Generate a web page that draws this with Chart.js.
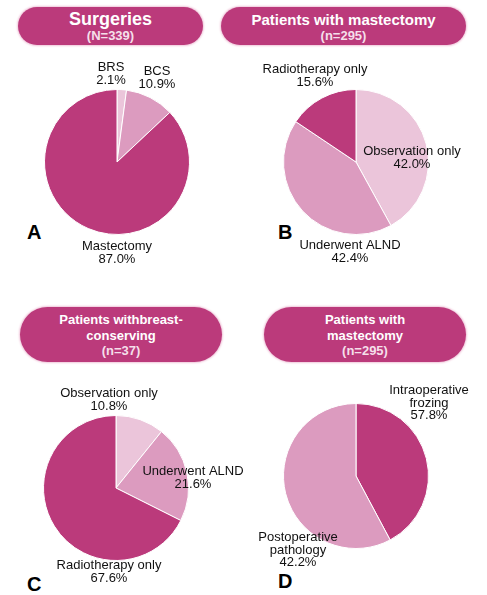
<!DOCTYPE html>
<html>
<head>
<meta charset="utf-8">
<script src="https://cdn.jsdelivr.net/npm/chart.js@4"></script>
<style>
  body { margin: 0; background: #fff; font-family: "Liberation Sans", Arial, sans-serif; }
  #page { position: relative; width: 487px; height: 595px; overflow: hidden; }
  canvas { position: absolute; left: 0; top: 0; }
  .pill {
    position: absolute; background: #bb3a7b; color: #fff; border-radius: 22px;
    box-shadow: 0 0 2px 1px #f0c6da; text-align: center; font-weight: bold;
    display: flex; flex-direction: column; justify-content: center;
  }
  .pill .sub { color: #f5dfea; font-size: 13px; line-height: 13px; }
  .letter { position: absolute; font-weight: bold; font-size: 20px; color: #000; line-height: 20px; }
</style>
</head>
<body>
<div id="page">
  <div class="pill" style="left:18px;top:7px;width:185px;height:38px;">
    <div style="font-size:18px;line-height:19px;">Surgeries</div>
    <div class="sub">(N=339)</div>
  </div>
  <div class="pill" style="left:221px;top:7px;width:245px;height:38px;">
    <div style="font-size:15px;line-height:18px;">Patients with mastectomy</div>
    <div class="sub">(n=295)</div>
  </div>
  <div class="pill" style="left:20px;top:307px;width:202px;height:55px;border-radius:28px;">
    <div style="font-size:13px;line-height:16px;">Patients withbreast-<br>conserving</div>
    <div class="sub">(n=37)</div>
  </div>
  <div class="pill" style="left:264px;top:307px;width:202px;height:55px;border-radius:28px;">
    <div style="font-size:13px;line-height:16px;">Patients with<br>mastectomy</div>
    <div class="sub">(n=295)</div>
  </div>
  <div class="letter" style="left:27px;top:222px;">A</div>
  <div class="letter" style="left:278px;top:222px;">B</div>
  <div class="letter" style="left:27px;top:574px;">C</div>
  <div class="letter" style="left:278px;top:571px;">D</div>
  <canvas id="pieA" width="487" height="595"></canvas>
  <canvas id="pieB" width="487" height="595"></canvas>
  <canvas id="pieC" width="487" height="595"></canvas>
  <canvas id="pieD" width="487" height="595"></canvas>
</div>
<script>
const DARK = "#bb3a7b";
const MID = "#dc9bbf";
const LIGHT = "#ebc5da";

// A: surgeries
const surgeryLabels = ["BRS", "BCS", "Mastectomy"];
const surgeryValues = [2.1, 10.9, 87.0];

// B: patients with mastectomy, axillary treatment
const mastLabels = ["Observation only", "Underwent ALND", "Radiotherapy only"];
const mastValues = [42.0, 42.4, 15.6];

// C: breast-conserving patients
const bcsLabels = ["Observation only", "Underwent ALND", "Radiotherapy only"];
const bcsValues = [10.8, 21.6, 67.6];

// D: pathology method (slice sizes as drawn, percent text as printed)
const pathLabels = ["Intraoperative\nfrozing", "Postoperative\npathology"];
const pathValues = [42.2, 57.8];
const pathPercents = ["57.8%", "42.2%"];

const W = 487, H = 595, R = 73;

function pct(v) { return v.toFixed(1) + "%"; }

const pies = [
  { id: "pieA", labels: surgeryLabels, values: surgeryValues, text: surgeryValues.map(pct),
    colors: [LIGHT, MID, DARK], cx: 117, cy: 162,
    offsets: [[-6, -88], [40, -84], [0, 91]] },
  { id: "pieB", labels: mastLabels, values: mastValues, text: mastValues.map(pct),
    colors: [LIGHT, MID, DARK], cx: 356, cy: 162,
    offsets: [[56, -4], [-6, 90], [-41, -86]] },
  { id: "pieC", labels: bcsLabels, values: bcsValues, text: bcsValues.map(pct),
    colors: [LIGHT, MID, DARK], cx: 116, cy: 488,
    offsets: [[-7, -88], [77, -10], [-7, 84]] },
  { id: "pieD", labels: pathLabels, values: pathValues, text: pathPercents,
    colors: [DARK, MID], cx: 356, cy: 476,
    offsets: [[73, -73], [-58, 74]] },
];

const sliceLabels = {
  id: "sliceLabels",
  afterDatasetsDraw(chart, args, opts) {
    const ctx = chart.ctx;
    const arc = chart.getDatasetMeta(0).data[0];
    ctx.save();
    ctx.font = '13px "Liberation Sans", Arial, sans-serif';
    ctx.fillStyle = "#111";
    ctx.textAlign = "center";
    ctx.textBaseline = "middle";
    chart.data.labels.forEach((lab, i) => {
      const lines = lab.split("\n").concat([opts.text[i]]);
      const [dx, dy] = opts.offsets[i];
      const lh = 12.5;
      const y0 = arc.y + dy - (lines.length - 1) * lh / 2;
      lines.forEach((ln, j) => ctx.fillText(ln, arc.x + dx, y0 + j * lh));
    });
    ctx.restore();
  },
};

pies.forEach((p) => {
  new Chart(document.getElementById(p.id), {
    type: "pie",
    data: {
      labels: p.labels,
      datasets: [{
        data: p.values,
        backgroundColor: p.colors,
        borderColor: "#ffffff",
        borderWidth: 1,
      }],
    },
    options: {
      responsive: false,
      animation: false,
      layout: {
        padding: { left: p.cx - R, right: W - p.cx - R, top: p.cy - R, bottom: H - p.cy - R },
      },
      plugins: {
        legend: { display: false },
        tooltip: { enabled: false },
        sliceLabels: { offsets: p.offsets, text: p.text },
      },
    },
    plugins: [sliceLabels],
  });
});
</script>
</body>
</html>
